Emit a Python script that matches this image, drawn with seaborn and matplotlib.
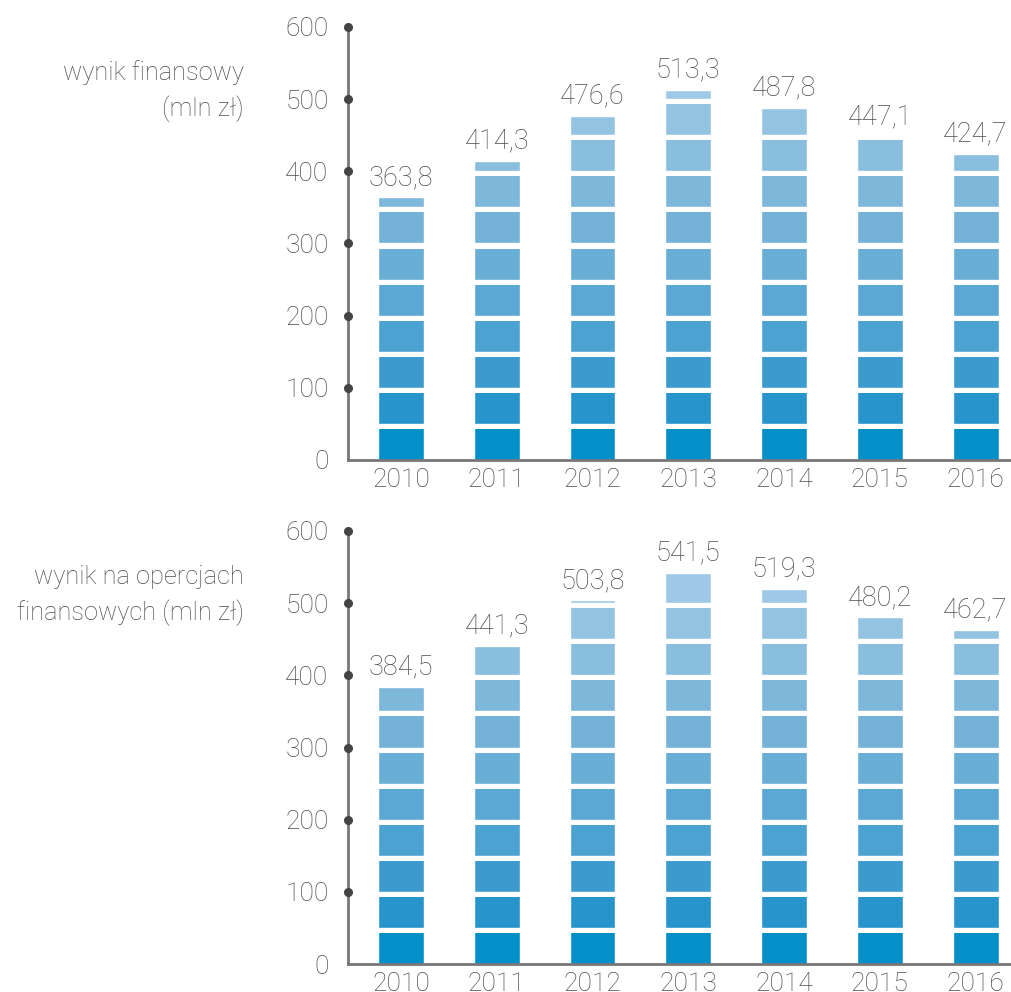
import numpy as np
import pandas as pd
import matplotlib
matplotlib.use("Agg")
import matplotlib.pyplot as plt
import seaborn as sns

years = ["2010", "2011", "2012", "2013", "2014", "2015", "2016"]
wynik_finansowy = [363.8, 414.3, 476.6, 513.3, 487.8, 447.1, 424.7]
wynik_operacje = [384.5, 441.3, 503.8, 541.5, 519.3, 480.2, 462.7]
label_top = "wynik finansowy\n(mln zł)"
label_bottom = "wynik na opercjach\nfinansowych (mln zł)"
yticks = [0, 100, 200, 300, 400, 500, 600]

seg_colors = ["#038FC7", "#2794CB", "#3D9ACE", "#4CA2D1", "#5AA8D3", "#68AED5",
              "#74B3D7", "#7DB8DA", "#89BEDE", "#94C4E2", "#9FC9E6", "#A8CEE8"]
SEG = 50

sns.set_theme(style="white")
plt.rcParams['font.family'] = ['Roboto', 'DejaVu Sans']
FW = 'light'
TXT = "#4d4d4d"

fig = plt.figure(figsize=(10.11, 9.92), dpi=100)
W, H = 1011, 992

def make_ax(top_px, bottom_px):
    left = 348 / W
    b = 1 - bottom_px / H
    t = 1 - top_px / H
    return fig.add_axes([left, b, 1 - left, t - b])

def draw_panel(ax, values, ylabel):
    vals = np.array(values)
    nseg = int(np.ceil(vals.max() / SEG))
    for k in range(nseg - 1, -1, -1):
        h = np.where(vals > SEG * k, np.minimum(vals, SEG * (k + 1)), 0.0)
        df = pd.DataFrame({"year": years, "h": h})
        sns.barplot(data=df, x="year", y="h", order=years, color=seg_colors[k],
                    saturation=1, width=0.48, ax=ax, zorder=1)
    for k in range(nseg):
        ax.axhspan(SEG * k + 43, SEG * (k + 1), color="white", zorder=1.5, lw=0)
    for i, v in enumerate(vals):
        ax.text(i, v + 9, f"{v:.1f}".replace(".", ","), ha="center", va="bottom",
                fontsize=19.5, color=TXT, zorder=3, fontweight=FW)
    ax.set_ylim(0, 600)
    ax.set_xlim(-0.553, 6.37)
    ax.set_yticks(yticks)
    ax.set_yticklabels([str(t) for t in yticks], fontsize=19, color=TXT,
                       fontweight=FW)
    ax.set_xticks(range(len(years)))
    ax.set_xticklabels(years, fontsize=19, color=TXT, fontweight=FW)
    ax.tick_params(axis="y", length=0, pad=14)
    ax.tick_params(axis="x", length=0, pad=6)
    ax.set_xlabel("")
    ax.set_ylabel("")
    for s in ["top", "right"]:
        ax.spines[s].set_visible(False)
    for s in ["left", "bottom"]:
        ax.spines[s].set_color("#777777")
        ax.spines[s].set_linewidth(2)
        ax.spines[s].set_zorder(4)
    ax.plot([-0.553] * 6, yticks[1:], "o", color="#444444", ms=5.5,
            clip_on=False, zorder=5)
    ax.text(-0.553 - 1.09, 511, ylabel, ha="right", va="center", fontsize=18.3,
            color=TXT, linespacing=1.5, fontweight=FW)

ax1 = make_ax(27, 460)
draw_panel(ax1, wynik_finansowy, label_top)
ax2 = make_ax(531, 964)
draw_panel(ax2, wynik_operacje, label_bottom)

fig.savefig("out.png", dpi=100)
